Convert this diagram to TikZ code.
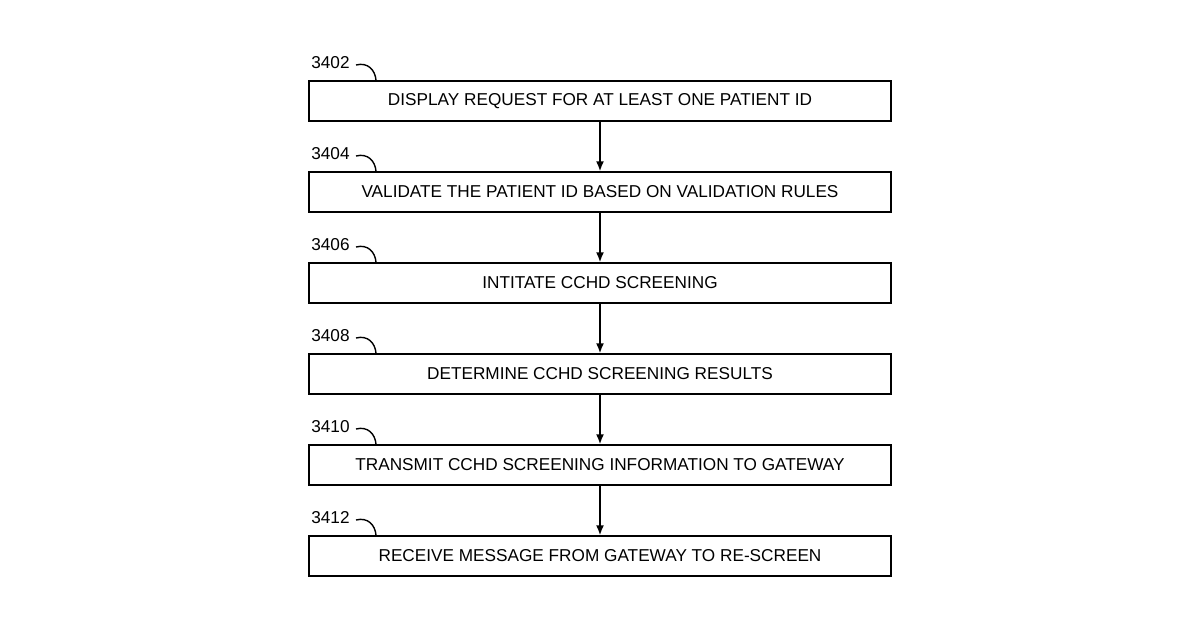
\documentclass[tikz,border=0pt]{standalone}
\usepackage{fontspec}
\setmainfont{Liberation Sans}
\begin{document}
\begin{tikzpicture}[x=0.5pt,y=-0.5pt,
  box/.style={draw,line width=0.7pt,minimum width=291pt,minimum height=20pt,inner sep=0pt,font=\fontsize{8.6}{10}\selectfont},
  lbl/.style={font=\fontsize{8.6}{10}\selectfont,anchor=east,inner sep=0pt},
  arr/.style={-{Latex[length=5pt,width=4pt]},line width=0.8pt}]
\useasboundingbox (0,0) rectangle (1200,630);
\usetikzlibrary{arrows.meta}
\foreach \i/\n/\t in {0/3402/DISPLAY REQUEST FOR AT LEAST ONE PATIENT ID,
                      1/3404/VALIDATE THE PATIENT ID BASED ON VALIDATION RULES,
                      2/3406/INTITATE CCHD SCREENING,
                      3/3408/DETERMINE CCHD SCREENING RESULTS,
                      4/3410/TRANSMIT CCHD SCREENING INFORMATION TO GATEWAY,
                      5/3412/RECEIVE MESSAGE FROM GATEWAY TO RE-SCREEN}{
  \node[box] (b\i) at (600,{101+91*\i}) {\t};
  \node[lbl] (l\i) at (350,{63+91*\i}) {\n};
  \coordinate (h\i) at (376,{80+91*\i});
  \draw[line width=0.7pt] (356,{65+91*\i}) .. controls (368,{62+91*\i}) and (375,{70+91*\i}) .. (h\i);
}
\foreach \i [evaluate=\i as \j using int(\i+1)] in {0,...,4}{
  \draw[arr] (b\i) -- (b\j);
}
\end{tikzpicture}
\end{document}
